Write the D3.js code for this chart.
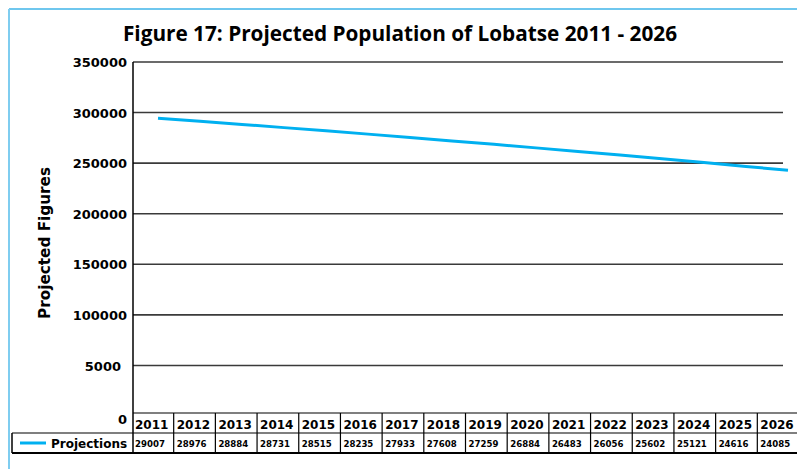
<!DOCTYPE html>
<html><head><meta charset="utf-8">
<script src="https://cdn.jsdelivr.net/npm/d3@7"></script>
<style>
html,body{margin:0;padding:0;background:#fff;}
svg{display:block;}
text{font-family:"DejaVu Sans",sans-serif;font-weight:bold;fill:#000;}
</style></head>
<body>
<script>
const years = ["2011","2012","2013","2014","2015","2016","2017","2018","2019","2020","2021","2022","2023","2024","2025","2026"];
const projections = [294340,291320,288260,285120,281940,278690,275370,272010,268580,265090,261550,257940,254270,250540,246780,242930];
const tableLabels = ["29007","28976","28884","28731","28515","28235","27933","27608","27259","26884","26483","26056","25602","25121","24616","24085"];
const tickValues = [0,50000,100000,150000,200000,250000,300000,350000];
const tickLabels = ["0","5000","100000","150000","200000","250000","300000","350000"];
const seriesName = "Projections";
const titleText = "Figure 17: Projected Population of Lobatse 2011 - 2026";
const yTitle = "Projected Figures";

const W = 797, H = 469;
const svg = d3.select("body").append("svg").attr("width", W).attr("height", H);

function fit(sel, size, target){
  sel.style("font-size", size+"px");
  const w = sel.node().getComputedTextLength();
  sel.style("font-size", (size*target/w).toFixed(2)+"px");
}

// outer border
svg.append("line").attr("x1",9).attr("y1",9).attr("x2",W).attr("y2",9).attr("stroke","#3fb4e8").attr("stroke-width",1.5);
svg.append("line").attr("x1",9).attr("y1",9).attr("x2",9).attr("y2",H).attr("stroke","#7fcdf0").attr("stroke-width",2);

const plotL = 133, plotR = 783;
const y = d3.scaleLinear().domain([0,350000]).range([416,62]);
const xTable = d3.scaleBand().domain(years).range([132,799]);
const xLine = d3.scalePoint().domain(years).range([158,788]);

// title
const t = svg.append("text").attr("x",400).attr("y",41).attr("text-anchor","middle")
  .style("font-family",'"Open Sans",sans-serif').text(titleText);
fit(t, 19, 554);

// gridlines
svg.append("g").selectAll("line").data(tickValues.filter(v=>v>0)).join("line")
  .attr("x1",plotL).attr("x2",plotR).attr("y1",d=>y(d)).attr("y2",d=>y(d))
  .attr("stroke","#3a3a3a").attr("stroke-width",1.6);

// y axis tick labels
const yAxis = d3.axisLeft(y).tickValues(tickValues).tickSize(0).tickPadding(0)
  .tickFormat((d,i)=>tickLabels[i]);
const ga = svg.append("g").attr("transform",`translate(127,0)`).call(yAxis);
ga.select(".domain").remove();
ga.selectAll("text").attr("dy","0.36em").style("font-size","13px")
  .style("font-family",'"DejaVu Sans",sans-serif').style("font-weight","bold");
ga.selectAll(".tick").filter(d=>d===0).select("text").attr("transform","translate(0,3)");
ga.selectAll(".tick").filter(d=>d===50000).select("text").attr("transform","translate(-6,0)");

// y axis line
svg.append("line").attr("x1",plotL).attr("x2",plotL).attr("y1",62).attr("y2",453).attr("stroke","#000").attr("stroke-width",1.5);

// y title
const yt = svg.append("text").attr("transform","translate(50,243) rotate(-90)").attr("text-anchor","middle").text(yTitle);
fit(yt, 15, 152);

// line
const line = d3.line().x((d,i)=>xLine(years[i])).y(d=>y(d));
svg.append("path").datum(projections).attr("d",line).attr("fill","none")
  .attr("stroke","#00b0f0").attr("stroke-width",3);

// data table
const rowTop = 413, rowMid = 433, rowBot = 453;
const tbl = svg.append("g");
tbl.append("line").attr("x1",plotL).attr("x2",W).attr("y1",rowTop).attr("y2",rowTop).attr("stroke","#000").attr("stroke-width",1.2);
tbl.append("line").attr("x1",12).attr("x2",W).attr("y1",rowMid).attr("y2",rowMid).attr("stroke","#000").attr("stroke-width",1.2);
tbl.append("line").attr("x1",12).attr("x2",W).attr("y1",rowBot).attr("y2",rowBot).attr("stroke","#000").attr("stroke-width",2);
tbl.append("line").attr("x1",12).attr("x2",12).attr("y1",rowMid).attr("y2",rowBot).attr("stroke","#000").attr("stroke-width",1.5);
tbl.selectAll("line.col").data(years.slice(1)).join("line").attr("class","col")
  .attr("x1",d=>xTable(d)).attr("x2",d=>xTable(d)).attr("y1",rowTop).attr("y2",rowBot)
  .attr("stroke","#000").attr("stroke-width",1.2);
tbl.selectAll("text.yr").data(years).join("text").attr("class","yr")
  .attr("x",d=>xTable(d)+3).attr("y",428.5)
  .style("font-size","12px").text(d=>d);
tbl.selectAll("text.val").data(tableLabels).join("text").attr("class","val")
  .attr("x",(d,i)=>xTable(years[i])+3).attr("y",446.5)
  .style("font-size","8.6px").text(d=>d);
// legend key
tbl.append("line").attr("x1",20).attr("x2",46).attr("y1",443).attr("y2",443).attr("stroke","#00b0f0").attr("stroke-width",3);
tbl.append("text").attr("x",51).attr("y",447.5).style("font-size","12px").text(seriesName);
</script>
</body></html>
